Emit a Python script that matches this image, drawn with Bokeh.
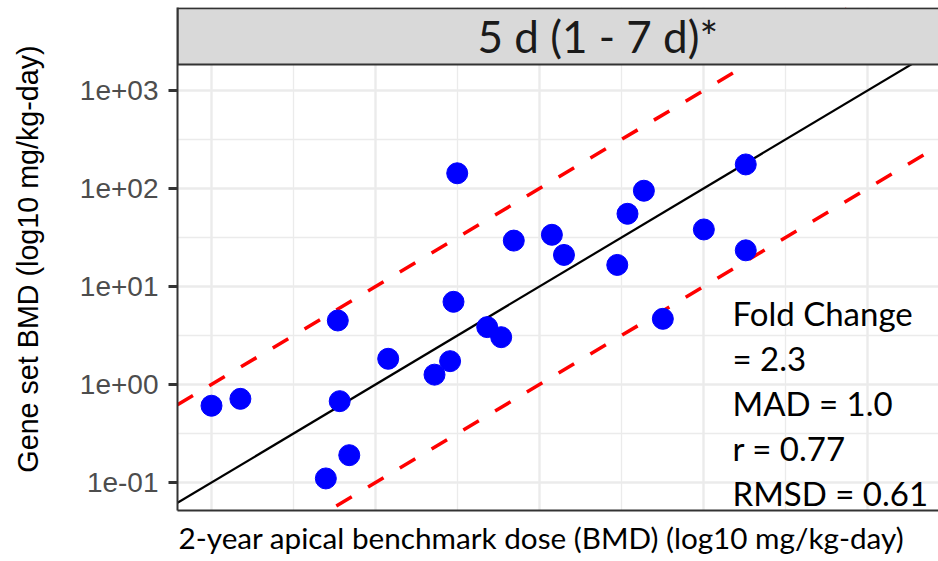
import math
from bokeh.plotting import figure
from bokeh.models import FixedTicker, Label, Range1d, Title
from bokeh.embed import file_html
from bokeh.resources import INLINE

# ---------------- data ----------------
apical_bmd = [0.100, 0.150, 0.589, 0.605, 0.498, 0.692, 1.195, 2.29, 2.85, 2.99,
              3.15, 4.80, 5.84, 6.97, 11.9, 14.1, 29.8, 34.4, 43.3, 56.5,
              100.5, 181.0, 181.0]
gene_set_bmd = [0.607, 0.714, 4.50, 0.676, 0.110, 0.190, 1.83, 1.26, 1.73, 6.98,
                143.0, 3.85, 3.04, 29.4, 33.7, 21.0, 16.6, 55.2, 94.9, 4.68,
                38.2, 176.0, 23.4]
decade_ticks = [0.1, 1, 10, 100, 1000]
y_tick_labels = ["1e-01", "1e+00", "1e+01", "1e+02", "1e+03"]
half_decade_ticks = [10 ** -0.5, 10 ** 0.5, 10 ** 1.5, 10 ** 2.5, 10 ** 3.5]
fold_band = 10.0
panel_title = "5 d (1 - 7 d)*"
stats_lines = ["Fold Change", "= 2.3", "MAD = 1.0", "r = 0.77", "RMSD = 0.61"]
x_title = "2-year apical benchmark dose (BMD) (log10 mg/kg-day)"
y_title = "Gene set BMD (log10 mg/kg-day)"

# ---------------- geometry helpers (pixel -> data) ----------------
W, H = 938, 561
FRAME_LEFT, FRAME_TOP, FRAME_BOTTOM = 177, 7, 510
PX_X, PX_Y = 164.0, 98.0
BASELINE_FIX = 0.39  # em shift of Bokeh's alphabetic baseline


def xd(px):
    return 10 ** (-1 + (px - 211) / PX_X)


def yd(py):
    return 10 ** (-1 + (482 - py) / PX_Y)


x_start, x_end = xd(FRAME_LEFT), xd(W)
y_start, y_end = yd(FRAME_BOTTOM), yd(FRAME_TOP)
panel_top = yd(64)

p = figure(width=W, height=H, x_axis_type="log", y_axis_type="log",
           x_range=Range1d(x_start, x_end), y_range=Range1d(y_start, y_end),
           output_backend="svg", toolbar_location=None, title=None,
           min_border_left=FRAME_LEFT, min_border_right=0,
           min_border_top=FRAME_TOP, min_border_bottom=H - FRAME_BOTTOM)
p.outline_line_color = None
p.background_fill_color = "white"
p.border_fill_color = "white"

# ticks / grid
p.xaxis.ticker = FixedTicker(ticks=decade_ticks, minor_ticks=half_decade_ticks)
p.yaxis.ticker = FixedTicker(ticks=decade_ticks, minor_ticks=half_decade_ticks)
p.yaxis.major_label_overrides = {v: s for v, s in zip(decade_ticks, y_tick_labels)}
p.xaxis.major_label_overrides = {v: "" for v in decade_ticks}

for g in (p.xgrid, p.ygrid):
    g.grid_line_color = "#EBEBEB"
    g.grid_line_width = 2.4
    g.minor_grid_line_color = "#EBEBEB"
    g.minor_grid_line_width = 1.3

p.yaxis.axis_line_color = "#333333"
p.yaxis.axis_line_width = 2
p.yaxis.major_tick_line_color = "#333333"
p.yaxis.major_tick_line_width = 3
p.yaxis.major_tick_out = 9
p.yaxis.major_tick_in = 0
p.yaxis.minor_tick_line_color = None
p.yaxis.minor_tick_out = 0
p.yaxis.major_label_text_font = "Liberation Sans"
p.yaxis.major_label_text_font_size = "28px"
p.yaxis.major_label_text_color = "#4D4D4D"
p.yaxis.major_label_standoff = 10
p.yaxis.axis_label = y_title
p.yaxis.axis_label_text_font = "Liberation Sans"
p.yaxis.axis_label_text_font_size = "28.7px"
p.yaxis.axis_label_text_font_style = "normal"
p.yaxis.axis_label_text_color = "black"
p.yaxis.axis_label_standoff = 33

p.xaxis.axis_line_color = "#333333"
p.xaxis.axis_line_width = 2
p.xaxis.major_tick_line_color = None
p.xaxis.minor_tick_line_color = None
p.xaxis.major_tick_out = 0
p.xaxis.minor_tick_out = 0
p.xaxis.major_label_text_font_size = "0px"
p.xaxis.major_label_standoff = 0

# x axis title (left-aligned with the panel, as in the reference)
p.add_layout(Title(text=x_title, align="left", offset=1, standoff=14,
                   text_font="Lato", text_font_size="29.7px",
                   text_font_style="normal", text_color="black"), "below")

# reference lines
xs_line = [x_start, x_end]
p.line(xs_line, [x for x in xs_line], line_color="black", line_width=2.2)
p.line(xs_line, [x * fold_band for x in xs_line], line_color="#FF0000",
       line_width=3.5, line_dash="18 19")
p.line(xs_line, [x / fold_band for x in xs_line], line_color="#FF0000",
       line_width=3.5, line_dash="18 19")

# points
p.scatter(apical_bmd, gene_set_bmd, size=21, color="#0000FF")

# facet strip
p.quad(left=[x_start], right=[x_end * 10], bottom=[panel_top], top=[yd(7.8)],
       fill_color="#D9D9D9", line_color="#333333", line_width=2)
strip_fs = 44
p.add_layout(Label(x=xd(477), y=yd(53 - BASELINE_FIX * strip_fs), text=panel_title,
                   text_font="Lato", text_font_size=f"{strip_fs}px",
                   text_color="#1A1A1A", text_baseline="alphabetic",
                   text_align="left"))

# stats annotation
stats_fs = 33
for i, s in enumerate(stats_lines):
    p.add_layout(Label(x=xd(732), y=yd(325 + 45 * i - BASELINE_FIX * stats_fs),
                       text=s, text_font="Lato", text_font_size=f"{stats_fs}px",
                       text_color="black", text_baseline="alphabetic",
                       text_align="left"))

open("out.html", "w").write(file_html(p, INLINE))
